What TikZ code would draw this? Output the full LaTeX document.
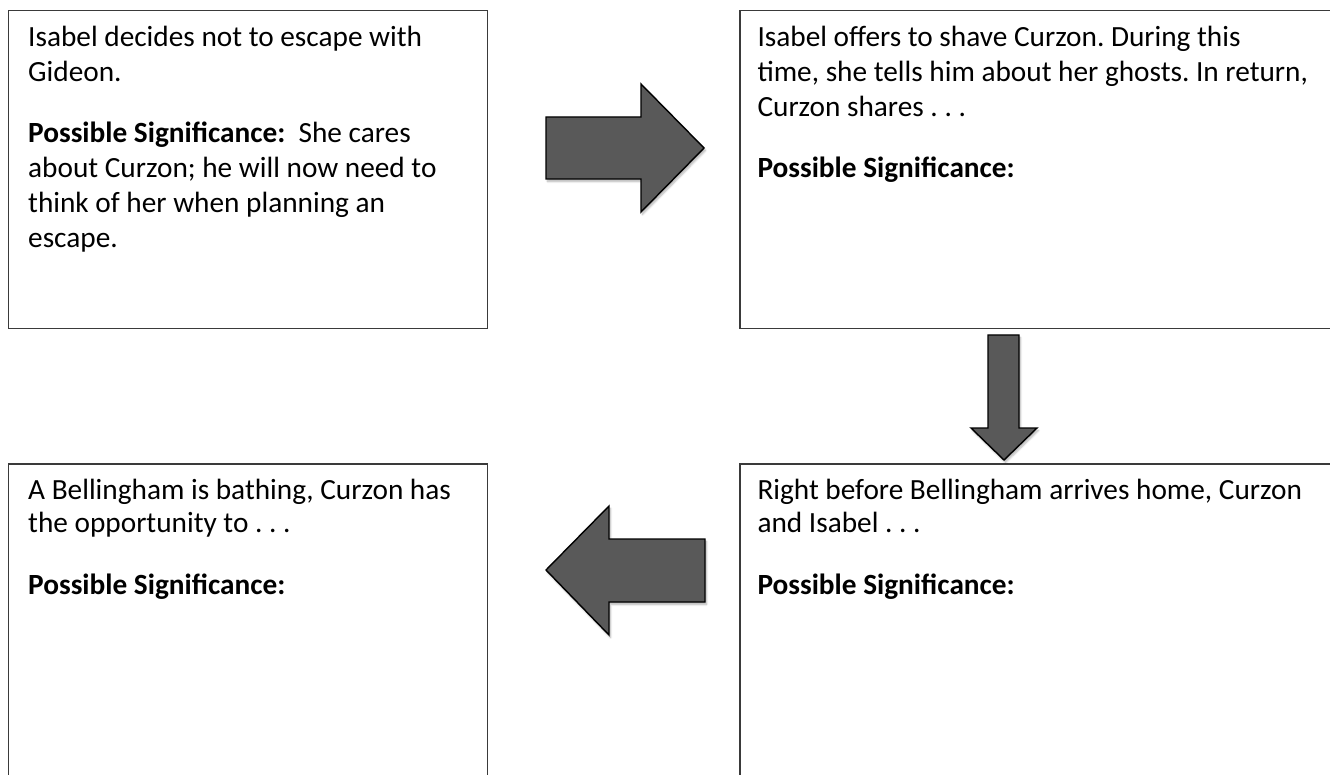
\documentclass[tikz,border=0pt]{standalone}
\usepackage{fontspec}
\setmainfont{Carlito}
\usepackage{tikz}
\usetikzlibrary{positioning,shadows.blur}
\definecolor{arrowgray}{HTML}{595959}
\definecolor{boxline}{HTML}{3A3A3A}
\tikzset{
  card/.style={draw=boxline, line width=1.3pt, rectangle, inner sep=0pt},
  note/.style={inner sep=0pt, text width=580pt, align=flush left,
    font=\fontsize{29.3pt}{35pt}\selectfont\frenchspacing},
  lownote/.style={note, font=\fontsize{29.3pt}{33.5pt}\selectfont\frenchspacing},
  blockarrow/.style={draw=black, line width=1.4pt, fill=arrowgray, line join=miter,
    blur shadow={shadow xshift=1.5pt, shadow yshift=-2.5pt, shadow blur steps=6, shadow opacity=30}}
}

\begin{document}
\begin{tikzpicture}[x=1pt, y=-1pt]
  \useasboundingbox (0,0) rectangle (1330,775);
  \clip (0,0) rectangle (1330,775);

  % Define boxes
  \node[card, anchor=north west, minimum width=479pt, minimum height=318pt] at (8,10) (decide) {};
  \node[card, right=251pt of decide, minimum width=600pt, minimum height=318pt] (shave) {};
  \node[card, below=134pt of decide, minimum width=479pt, minimum height=330pt] (bath) {};
  \node[card, right=251pt of bath, minimum width=600pt, minimum height=330pt] (home) {};

  % Texts
  \node[note, below right=37pt and 20pt of decide.north west, anchor=base west] (decidetxt)
    {Isabel decides not to escape with\\ Gideon.\\[26pt]
     \textbf{Possible Significance:}~ She cares\\ about Curzon; he will now need to\\
     think of her when planning an\\ escape.};
  \node[note, below right=37pt and 18pt of shave.north west, anchor=base west] (shavetxt)
    {Isabel offers to shave Curzon. During this\\ time, she tells him about her ghosts. In return,\\
     Curzon shares . . .\\[26pt] \textbf{Possible Significance:}};
  \node[lownote, below right=36pt and 18pt of home.north west, anchor=base west] (hometxt)
    {Right before Bellingham arrives home, Curzon\\ and Isabel . . .\\[28.5pt]
     \textbf{Possible Significance:}};
  \node[lownote, below right=36pt and 20pt of bath.north west, anchor=base west] (bathtxt)
    {A Bellingham is bathing, Curzon has\\ the opportunity to . . .\\[28.5pt]
     \textbf{Possible Significance:}};

  % Arrows
  \draw[blockarrow] (546,117) -- (641,117) -- (641,84) -- (704,148) -- (641,212)
    -- (641,179) -- (546,179) -- cycle;
  \draw[blockarrow] (988,335) -- (1019,335) -- (1019,428) -- (1037,428) -- (1004,460)
    -- (971,428) -- (988,428) -- cycle;
  \draw[blockarrow] (705,539) -- (609,539) -- (609,506) -- (546,570) -- (609,635)
    -- (609,602) -- (705,602) -- cycle;
\end{tikzpicture}
\end{document}
